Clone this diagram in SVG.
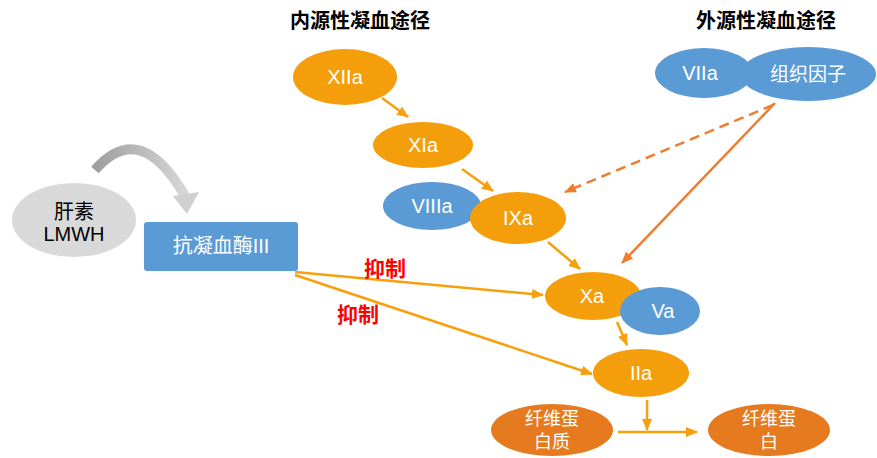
<svg xmlns="http://www.w3.org/2000/svg" width="877" height="458" viewBox="0 0 877 458">
<defs>
<style>
text{font-family:"Liberation Sans","Noto Sans CJK SC",sans-serif;text-anchor:middle;}
.t{font-size:20px;fill:#000;font-weight:bold;}
.w{fill:#fff;font-size:20px;}
.o{fill:#F59E0B;}
.b{fill:#5B9BD5;}
.d{fill:#E57A1F;}
.a1{stroke:#F5A00C;stroke-width:2.5;fill:none;marker-end:url(#ha);}
.a2{stroke:#ED7D31;stroke-width:2.5;fill:none;marker-end:url(#hb);}
.r{fill:#FF0000;font-size:21px;font-weight:bold;}
</style>
<marker id="ha" viewBox="0 0 12 10" refX="11" refY="5" markerWidth="12" markerHeight="10" markerUnits="userSpaceOnUse" orient="auto"><path d="M0,0 L12,5 L0,10 z" fill="#F5A00C"/></marker>
<marker id="hb" viewBox="0 0 12 10" refX="11" refY="5" markerWidth="12" markerHeight="10" markerUnits="userSpaceOnUse" orient="auto"><path d="M0,0 L12,5 L0,10 z" fill="#ED7D31"/></marker>
<linearGradient id="g" x1="0" y1="0" x2="1" y2="0"><stop offset="0" stop-color="#9E9E9E"/><stop offset="1" stop-color="#D6D6D6"/></linearGradient>
</defs>
<text class="t" x="360" y="28">内源性凝血途径</text>
<text class="t" x="766" y="28">外源性凝血途径</text>
<g id="connectors">
<line class="a1" x1="382" y1="98" x2="408" y2="117"/>
<line class="a1" x1="462" y1="169" x2="493" y2="191"/>
<line class="a1" x1="548" y1="242" x2="580" y2="269"/>
<line class="a1" x1="617" y1="322" x2="627" y2="345"/>
<line class="a2" x1="773" y1="105" x2="565" y2="192" stroke-dasharray="10,6"/>
<line class="a2" x1="775" y1="103" x2="622" y2="263"/>
<line class="a1" x1="295" y1="272" x2="543" y2="295"/>
<line class="a1" x1="295" y1="275" x2="592" y2="374"/>
<line class="a1" x1="647" y1="400" x2="647" y2="430"/>
<line class="a1" x1="618" y1="432" x2="697" y2="432"/>
<path d="M95,170 Q140,118 185,196" stroke="url(#g)" stroke-width="10" fill="none"/>
<polygon points="173,196 199,192 187,214" fill="#D0D0D0"/>
</g>
<text class="r" x="385" y="276">抑制</text>
<text class="r" x="358" y="322">抑制</text>
<g id="heparin"><ellipse cx="74" cy="220" rx="62" ry="37" fill="#D9D9D9"/><text x="74" y="219" style="font-size:20px;fill:#000">肝素</text><text x="74" y="241" style="font-size:20px;fill:#000">LMWH</text></g>
<g id="at3"><rect x="144" y="222" width="154" height="49" rx="3" class="b"/><text class="w" x="221" y="253">抗凝血酶III</text></g>
<g id="XIIa"><ellipse cx="345" cy="77" rx="52" ry="28" class="o"/><text class="w" x="345" y="84">XIIa</text></g>
<g id="XIa"><ellipse cx="423" cy="145" rx="50" ry="23" class="o"/><text class="w" x="423" y="152">XIa</text></g>
<g id="VIIIa"><ellipse cx="432" cy="206" rx="49" ry="24" class="b"/><text class="w" x="432" y="213">VIIIa</text></g>
<g id="IXa"><ellipse cx="518" cy="218" rx="48" ry="26" class="o"/><text class="w" x="518" y="225">IXa</text></g>
<g id="VIIa"><ellipse cx="704" cy="73" rx="49" ry="25" class="b"/><text class="w" x="700" y="80">VIIa</text></g>
<g id="TF"><ellipse cx="808" cy="74" rx="68" ry="27" class="b"/><text class="w" x="808" y="81" style="font-size:19px">组织因子</text></g>
<g id="Xa"><ellipse cx="593" cy="296" rx="48" ry="24" class="o"/><text class="w" x="592" y="303">Xa</text></g>
<g id="Va"><ellipse cx="660" cy="311" rx="40" ry="24" class="b"/><text class="w" x="663" y="318">Va</text></g>
<g id="IIa"><ellipse cx="641" cy="373" rx="48" ry="24" class="o"/><text class="w" x="641" y="380">IIa</text></g>
<g id="fibrinogen"><ellipse cx="552" cy="430" rx="61" ry="26" class="d"/><text class="w" x="552" y="425" style="font-size:18px">纤维蛋</text><text class="w" x="552" y="448" style="font-size:18px">白质</text></g>
<g id="fibrin"><ellipse cx="769" cy="430" rx="61" ry="26" class="d"/><text class="w" x="769" y="425" style="font-size:18px">纤维蛋</text><text class="w" x="769" y="448" style="font-size:18px">白</text></g>
</svg>
